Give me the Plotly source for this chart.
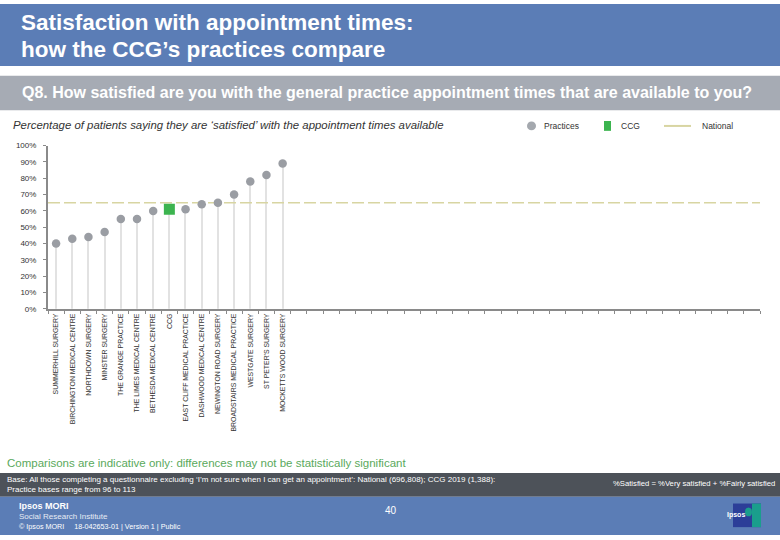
import plotly.graph_objects as go

W, H = 780, 540

# ---- data ----
practices = [
    "SUMMERHILL SURGERY",
    "BIRCHINGTON MEDICAL CENTRE",
    "NORTHDOWN SURGERY",
    "MINSTER SURGERY",
    "THE GRANGE PRACTICE",
    "THE LIMES MEDICAL CENTRE",
    "BETHESDA MEDICAL CENTRE",
    "CCG",
    "EAST CLIFF MEDICAL PRACTICE",
    "DASHWOOD MEDICAL CENTRE",
    "NEWINGTON ROAD SURGERY",
    "BROADSTAIRS MEDICAL PRACTICE",
    "WESTGATE SURGERY",
    "ST PETER'S SURGERY",
    "MOCKETTS WOOD SURGERY",
]
satisfied = [40, 43, 44, 47, 55, 55, 60, 61, 61, 64, 65, 70, 78, 82, 89]
national_value = 65
n_slots = 44  # total category slots on the axis (most are empty)
y_ticks = [0, 10, 20, 30, 40, 50, 60, 70, 80, 90, 100]
y_tick_labels = [f"{v}%" for v in y_ticks]

# ---- styles ----
BLUE = "#5b7db6"
QGRAY = "#a6abb4"
DARK = "#4d5259"
PT_GRAY = "#9a9da3"
GREEN = "#3cb44f"
NAT = "#d8d5a2"
FONT = "Liberation Sans, Arial, sans-serif"

idx = list(range(len(practices)))
ccg_i = practices.index("CCG")
prac_x = [i for i in idx if i != ccg_i]
prac_y = [satisfied[i] for i in prac_x]

fig = go.Figure()

# stems
fig.add_trace(go.Bar(x=idx, y=satisfied, width=0.07, marker=dict(color="#e2e2e2", line=dict(width=0)),
                     hoverinfo="skip", showlegend=False))
# national line
fig.add_trace(go.Scatter(x=[-0.5, n_slots - 0.3], y=[national_value, national_value], mode="lines",
                         line=dict(color=NAT, width=1.6, dash="12px,4px"), showlegend=False,
                         cliponaxis=False))
# practices
fig.add_trace(go.Scatter(x=prac_x, y=prac_y, mode="markers",
                         marker=dict(color=PT_GRAY, size=8.5, symbol="circle"), showlegend=False))
# CCG
fig.add_trace(go.Scatter(x=[ccg_i], y=[satisfied[ccg_i]], mode="markers",
                         marker=dict(color=GREEN, size=11, symbol="square"), showlegend=False))


def px(x):
    return x / W


def py(y):
    return 1 - y / H


shapes = []
ann = []

# header bands
shapes.append(dict(type="rect", xref="paper", yref="paper", x0=0, x1=1, y0=py(63), y1=py(0),
                   fillcolor=BLUE, line=dict(width=0), layer="below"))
shapes.append(dict(type="rect", xref="paper", yref="paper", x0=0, x1=1, y0=py(108), y1=py(73),
                   fillcolor=QGRAY, line=dict(width=0), layer="below"))
# footer bands
shapes.append(dict(type="rect", xref="paper", yref="paper", x0=0, x1=1, y0=py(501), y1=py(477),
                   fillcolor=DARK, line=dict(width=0), layer="below"))
shapes.append(dict(type="rect", xref="paper", yref="paper", x0=0, x1=1, y0=py(540), y1=py(501),
                   fillcolor=BLUE, line=dict(width=0), layer="below"))
# logo
shapes.append(dict(type="rect", xref="paper", yref="paper", x0=px(733), x1=px(761), y0=py(532), y1=py(508),
                   fillcolor="#2c3e98", line=dict(width=0)))
shapes.append(dict(type="rect", xref="paper", yref="paper", x0=px(752), x1=px(761), y0=py(532), y1=py(508),
                   fillcolor="#1a9e8c", line=dict(width=0)))
shapes.append(dict(type="circle", xref="paper", yref="paper", x0=px(745), x1=px(752), y0=py(521), y1=py(512),
                   fillcolor="#1a9e8c", line=dict(width=0)))
ann.append(dict(x=px(747), y=py(526), xref="paper", yref="paper", text="<b>Ipsos</b>", showarrow=False,
                font=dict(family=FONT, size=7, color="white")))

# legend
shapes.append(dict(type="circle", xref="paper", yref="paper", x0=px(527), x1=px(536), y0=py(128.5), y1=py(119.5),
                   fillcolor="#a4a8ae", line=dict(width=0)))
shapes.append(dict(type="rect", xref="paper", yref="paper", x0=px(604), x1=px(611), y0=py(129), y1=py(119),
                   fillcolor=GREEN, line=dict(width=0)))
shapes.append(dict(type="line", xref="paper", yref="paper", x0=px(664), x1=px(691), y0=py(124), y1=py(124),
                   line=dict(color=NAT, width=2)))
for x, t in [(542, "Practices"), (619, "CCG"), (700, "National")]:
    ann.append(dict(x=px(x), y=py(124), xref="paper", yref="paper", text=t, showarrow=False,
                    xanchor="left", yanchor="middle", font=dict(family=FONT, size=8.5, color="#333333")))

# titles
ann.append(dict(x=px(20), y=py(19), xref="paper", yref="paper",
                text="<b>Satisfaction with appointment times:</b>", showarrow=False, borderpad=0,
                xanchor="left", yanchor="middle", font=dict(family=FONT, size=22.5, color="white")))
ann.append(dict(x=px(20), y=py(46), xref="paper", yref="paper",
                text="<b>how the CCG\u2019s practices compare</b>", showarrow=False, borderpad=0,
                xanchor="left", yanchor="middle", font=dict(family=FONT, size=22.5, color="white")))
ann.append(dict(x=px(20), y=py(90.5), xref="paper", yref="paper",
                text="<b>Q8. How satisfied are you with the general practice appointment times that are available to you?</b>",
                showarrow=False, xanchor="left", yanchor="middle",
                font=dict(family=FONT, size=16, color="white")))
ann.append(dict(x=px(11), y=py(123), xref="paper", yref="paper",
                text="<i>Percentage of patients saying they are \u2018satisfied\u2019 with the appointment times available</i>",
                showarrow=False, xanchor="left", yanchor="middle",
                font=dict(family=FONT, size=11.4, color="#333333")))

# bottom texts
ann.append(dict(x=px(5), y=py(467), xref="paper", yref="paper",
                text="Comparisons are indicative only: differences may not be statistically significant",
                showarrow=False, xanchor="left", yanchor="middle",
                font=dict(family=FONT, size=11.5, color="#5aa95c")))
ann.append(dict(x=px(5), y=py(488.5), xref="paper", yref="paper",
                text="Base: All those completing a questionnaire excluding \u2018I\u2019m not sure when I can get an appointment\u2019: National (696,808); CCG 2019 (1,388):<br>Practice bases range from 96 to 113",
                showarrow=False, xanchor="left", yanchor="middle", align="left",
                font=dict(family=FONT, size=8, color="white")))
ann.append(dict(x=px(777), y=py(488), xref="paper", yref="paper",
                text="%Satisfied = %Very satisfied + %Fairly satisfied",
                showarrow=False, xanchor="right", yanchor="middle",
                font=dict(family=FONT, size=7.7, color="white")))
ann.append(dict(x=px(17), y=py(510), xref="paper", yref="paper", text="<b>Ipsos MORI</b>",
                showarrow=False, xanchor="left", yanchor="middle",
                font=dict(family=FONT, size=9, color="white")))
ann.append(dict(x=px(17), y=py(521), xref="paper", yref="paper", text="Social Research Institute",
                showarrow=False, xanchor="left", yanchor="middle",
                font=dict(family=FONT, size=8, color="#e6ebf4")))
ann.append(dict(x=px(17), y=py(531), xref="paper", yref="paper",
                text="\u00a9 Ipsos MORI&nbsp;&nbsp;&nbsp;&nbsp;&nbsp;18-042653-01 | Version 1 | Public",
                showarrow=False, xanchor="left", yanchor="middle",
                font=dict(family=FONT, size=7.2, color="white")))
ann.append(dict(x=px(391), y=py(515), xref="paper", yref="paper", text="40",
                showarrow=False, xanchor="center", yanchor="middle",
                font=dict(family=FONT, size=10, color="white")))

boundaries = [i - 0.5 for i in range(n_slots + 1)]

fig.update_layout(
    width=W, height=H, margin=dict(l=0, r=0, t=0, b=0),
    paper_bgcolor="white", plot_bgcolor="white",
    showlegend=False, shapes=shapes, annotations=ann,
    font=dict(family=FONT, color="#333333"),
    bargap=0,
    xaxis=dict(domain=[px(48), px(760)], range=[-0.5, n_slots - 0.5],
               tickmode="array", tickvals=idx, ticktext=practices, tickangle=-90,
               ticks="", ticklen=0, showgrid=False, zeroline=False,
               showline=True, linecolor="#8a8a8a", linewidth=2,
               tickfont=dict(family=FONT, size=6.9, color="#333333"),
               minor=dict(tickmode="array", tickvals=boundaries, ticks="outside", ticklen=3,
                          tickcolor="#8a8a8a", tickwidth=1, showgrid=False)),
    yaxis=dict(domain=[py(310), py(144)], range=[0, 100],
               tickmode="array", tickvals=y_ticks, ticktext=y_tick_labels,
               ticks="outside", ticklen=3, tickcolor="#8a8a8a",
               ticklabelstandoff=5,
               showgrid=False, zeroline=False,
               showline=True, linecolor="#8a8a8a", linewidth=2,
               tickfont=dict(family=FONT, size=8, color="#333333")),
)

fig.write_html("out.html", config={"displayModeBar": False},
               post_script="document.body.style.margin='0px';document.body.style.padding='0px';document.body.style.overflow='hidden';")
